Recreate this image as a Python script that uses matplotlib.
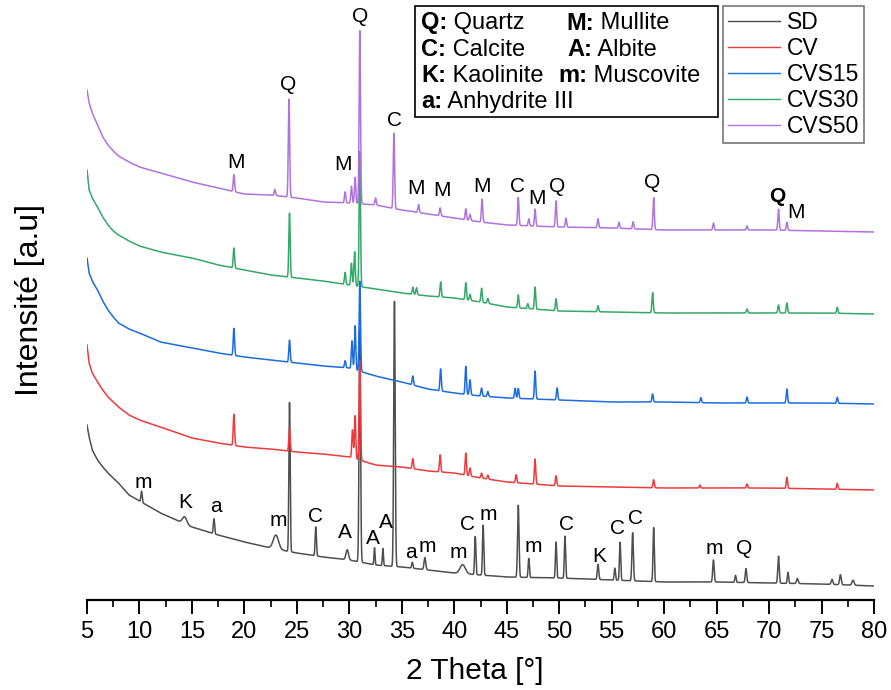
import numpy as np
import matplotlib
matplotlib.use("Agg")
import matplotlib.pyplot as plt
from matplotlib.patches import Rectangle

W, H = 891, 690

# 2 theta anchors for the background of every pattern (deg)
bg_theta = [5.0, 5.2, 5.5, 6, 6.5, 7, 7.5, 8, 9, 10, 12, 15, 17.5, 20, 22.5, 25, 27.5,
            30, 32.5, 35, 37.5, 40, 42.5, 45, 50, 55, 60, 65, 70, 75, 80]

# background intensity (a.u., stacking offset included)
bg_sd = [176, 164, 151, 141, 134, 128, 123, 118, 106, 100, 88, 74, 66, 59, 53, 48, 44,
         41, 36, 34, 31, 28, 26, 24, 23, 21, 19, 19, 18, 17, 15]
bg_cv = [256, 238, 228, 219, 211, 204, 199, 194, 186, 181, 174, 163, 158, 154, 152, 149,
         147, 144, 136, 134, 130, 128, 123, 119, 115, 114, 113, 113, 113, 112, 111]
bg_cvs15 = [343, 328, 320, 311, 300, 291, 284, 278, 272, 268, 259, 253, 248, 244, 241,
            238, 235, 233, 225, 219, 212, 208, 205, 203, 201, 199, 199, 198, 198, 198, 197]
bg_cvs30 = [431, 411, 403, 394, 384, 376, 370, 366, 360, 355, 349, 343, 336, 331, 326,
            323, 320, 316, 312, 308, 305, 303, 299, 294, 290, 289, 288, 288, 288, 288, 287]
bg_cvs50 = [511, 498, 488, 476, 464, 456, 450, 445, 439, 434, 428, 419, 413, 407, 406,
            403, 399, 398, 396, 391, 387, 383, 379, 376, 374, 373, 371, 371, 371, 370, 369]

# peaks: position (deg), height above background (a.u.), width (deg)
sd_pos = [10.2, 14.3, 17.1, 23.0, 24.3, 26.8, 29.8, 31.0, 32.4, 33.2, 34.3, 36.0,
          37.2, 40.8, 42.0, 42.75, 46.1, 47.1, 49.7, 50.55, 53.7, 55.3, 55.8, 57.0,
          59.0, 64.7, 66.8, 67.8, 70.9, 71.8, 72.7, 76.0, 76.8, 78.0]
sd_hgt = [11, 7, 15, 14, 149, 29, 10, 232, 17, 17, 265, 6,
          12, 9, 38, 50, 72, 19, 36, 42, 15, 12, 38, 48,
          54, 22, 7, 14, 27, 11, 5, 5, 10, 5]
sd_wid = [0.06, 0.2, 0.06, 0.25, 0.06, 0.06, 0.12, 0.07, 0.05, 0.05, 0.07, 0.06,
          0.08, 0.25, 0.06, 0.06, 0.07, 0.06, 0.06, 0.06, 0.07, 0.06, 0.06, 0.07,
          0.06, 0.07, 0.06, 0.07, 0.07, 0.06, 0.08, 0.08, 0.08, 0.1]

cv_pos = [19.0, 24.3, 30.3, 30.55, 31.0, 36.05, 38.65, 41.1, 41.5, 42.6, 43.2, 45.9,
          47.7, 49.7, 59.0, 63.4, 67.9, 71.7, 76.5]
cv_hgt = [31, 23, 28, 43, 100, 10, 17, 22, 8, 5, 4, 8,
          25, 10, 8, 3, 4, 11, 6]

cvs15_pos = [19.0, 24.3, 29.6, 30.25, 30.55, 31.0, 36.05, 38.7, 41.1, 41.5, 42.6, 43.2,
             45.8, 46.1, 47.7, 49.8, 58.9, 63.5, 67.9, 71.7, 76.5]
cvs15_hgt = [27, 22, 7, 28, 44, 90, 9, 22, 28, 15, 8, 5,
             10, 10, 28, 12, 8, 5, 6, 14, 6]

cvs30_pos = [19.0, 24.3, 29.6, 30.2, 30.5, 31.0, 36.05, 36.4, 38.7, 41.1, 41.5, 42.6,
             43.2, 46.1, 47.0, 47.7, 49.7, 53.7, 58.9, 67.9, 70.9, 71.7, 76.5]
cvs30_hgt = [20, 64, 12, 22, 34, 135, 7, 7, 15, 17, 6, 14,
             5, 13, 5, 22, 12, 6, 20, 4, 8, 10, 6]

cvs50_pos = [19.0, 22.9, 24.25, 29.6, 30.2, 30.55, 31.0, 32.5, 34.25, 36.6, 38.65, 41.1,
             41.5, 42.65, 46.1, 47.1, 47.7, 49.7, 50.65, 53.7, 55.7, 57.05, 59.0, 64.7,
             67.9, 70.9, 71.7]
cvs50_hgt = [17, 6, 98, 11, 17, 26, 173, 7, 75, 8, 8, 11,
             6, 23, 28, 7, 17, 26, 9, 9, 6, 7, 32, 7,
             4, 21, 8]

series = ["SD", "CV", "CVS15", "CVS30", "CVS50"]
colors = ["#4f4f4f", "#ee3a3c", "#1c6be0", "#34a868", "#b073dd"]

# phase letters written over the SD pattern (bottom) and CVS50 pattern (top)
sd_lbl = ["m", "K", "a", "m", "C", "A", "A", "A", "a", "m", "m", "C", "m", "m",
          "C", "K", "C", "C", "m", "Q"]
sd_lbl_x = [10.34, 14.34, 17.3, 23.2, 26.73, 29.6, 32.26, 33.5, 35.9, 37.4, 40.36, 41.3,
            43.2, 47.5, 50.65, 53.8, 55.6, 57.3, 64.75, 67.6]
sd_lbl_y = [119, 98, 94, 80, 84, 69, 62, 78, 48, 54, 49, 76,
            86, 55, 77, 44, 72, 83, 52, 52]

top_lbl = ["M", "Q", "M", "Q", "C", "M", "M", "M", "C", "M", "Q", "Q", "Q", "M"]
top_lbl_x = [19.2, 24.16, 29.4, 31.0, 34.26, 36.35, 38.8, 42.64, 45.98, 47.9, 49.8,
             58.9, 70.75, 72.57]
top_lbl_y = [439, 516, 436, 584, 481, 412, 410, 415, 414, 403, 414, 419, 404, 388]
top_bold = [False] * 12 + [True, False]

phase_key = [("Q:", "Quartz"), ("M:", "Mullite"), ("C:", "Calcite"), ("A:", "Albite"),
             ("K:", "Kaolinite"), ("m:", "Muscovite"), ("a:", "Anhydrite III")]

theta = np.arange(5.0, 80.0001, 0.01)


def pattern(bg, pos, hgt, wid=None):
    y = np.interp(theta, bg_theta, bg)
    if wid is None:
        wid = [0.065] * len(pos)
    for p, h, w in zip(pos, hgt, wid):
        y = y + h * np.exp(-0.5 * ((theta - p) / w) ** 2)
    return y


curves = [pattern(bg_sd, sd_pos, sd_hgt, sd_wid),
          pattern(bg_cv, cv_pos, cv_hgt),
          pattern(bg_cvs15, cvs15_pos, cvs15_hgt),
          pattern(bg_cvs30, cvs30_pos, cvs30_hgt),
          pattern(bg_cvs50, cvs50_pos, cvs50_hgt)]


def fx(px):
    return px / W


def fy(py):
    return 1 - py / H


fig = plt.figure(figsize=(W / 100, H / 100), dpi=100)
ax = fig.add_axes([fx(87), fy(600), fx(874) - fx(87), 600 / H])

for name, c, y in zip(series, colors, curves):
    ax.plot(theta, y, color=c, lw=1.1, label=name)

ax.set_xlim(5, 80)
ax.set_ylim(1, 601)

lbl_font = dict(family="Liberation Sans", fontsize=15, ha="center", va="center")
for t, x, y in zip(sd_lbl, sd_lbl_x, sd_lbl_y):
    ax.text(x, y, t, **lbl_font)
for t, x, y, b in zip(top_lbl, top_lbl_x, top_lbl_y, top_bold):
    ax.text(x, y, t, fontweight="bold" if b else "normal", **lbl_font)

# axes styling: bottom axis only, ticks pointing outward
for s in ["left", "right", "top"]:
    ax.spines[s].set_visible(False)
ax.spines["bottom"].set_linewidth(1.6)
ax.set_yticks([])
ax.set_xticks(np.arange(5, 81, 5))
ax.set_xticks(np.arange(7.5, 80, 5), minor=True)
ax.tick_params(axis="x", which="major", direction="out", length=10, width=1.4, pad=5)
ax.tick_params(axis="x", which="minor", direction="out", length=5, width=1.2)
for lab in ax.get_xticklabels():
    lab.set_fontfamily("Liberation Sans")
    lab.set_fontsize(17)
fig.text(fx(475), fy(679), "2 Theta [°]", ha="center", va="baseline",
         family="Liberation Sans", fontsize=21.5)
fig.text(fx(30), fy(300), "Intensité [a.u]", rotation=90, ha="center", va="center",
         family="Liberation Sans", fontsize=23)

# phase key box
fig.patches.append(Rectangle((fx(415), fy(117)), fx(718) - fx(415), fy(6) - fy(117),
                             transform=fig.transFigure, fill=False, lw=1.2, ec="black"))
col_x = [421, 566, 421, 567, 421, 558, 421]
row_y = [23, 23, 50, 50, 76, 76, 102]
for (k, v), x, y in zip(phase_key, col_x, row_y):
    b = fig.text(fx(x), fy(y), k, fontweight="bold", fontsize=17, family="Liberation Sans",
                 va="center", ha="left")
    ax.annotate(" " + v, xy=(1, 0.5), xycoords=b, va="center", ha="left",
                fontsize=17, family="Liberation Sans", annotation_clip=False)

leg = ax.legend(loc="upper left", bbox_to_anchor=(fx(723), fy(6)),
                bbox_transform=fig.transFigure, frameon=True, fancybox=False,
                prop=dict(family="Liberation Sans", size=16.5), handlelength=2.3,
                handletextpad=0.3, labelspacing=0.14, borderpad=0.2, borderaxespad=0)
leg.get_frame().set_edgecolor("#555555")
leg.get_frame().set_linewidth(1.2)
for ln in leg.get_lines():
    ln.set_linewidth(1.0)

fig.savefig("out.png", dpi=100)
